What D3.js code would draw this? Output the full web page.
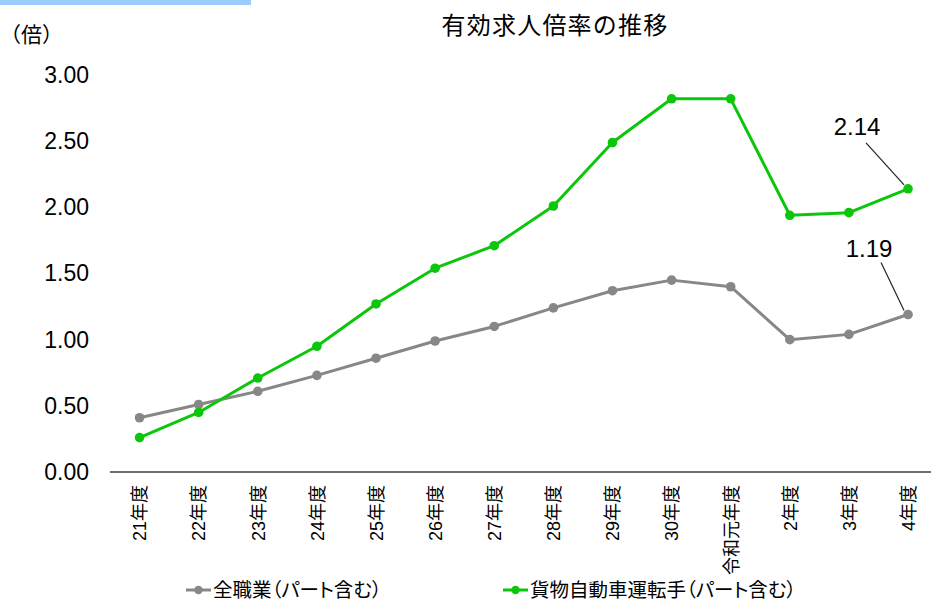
<!DOCTYPE html>
<html lang="ja">
<head>
<meta charset="utf-8">
<script src="https://cdn.jsdelivr.net/npm/d3@7/dist/d3.min.js"></script>
<style>
  html, body { margin: 0; padding: 0; background: #fff; }
  svg { display: block; }
  text { font-family: "Liberation Sans", Arial, "Noto Sans CJK JP", sans-serif; fill: #000; }
  .cjk { font-family: "Liberation Sans", "Noto Sans CJK JP", sans-serif; }
  .prop { font-feature-settings: "palt"; }
</style>
</head>
<body>
<svg id="chart" width="931" height="602"></svg>
<script>
// 年度（平成21年度〜令和4年度）
const years = ["21年度", "22年度", "23年度", "24年度", "25年度", "26年度", "27年度",
               "28年度", "29年度", "30年度", "令和元年度", "2年度", "3年度", "4年度"];
// 全職業（パート含む）
const allJobs = [0.41, 0.51, 0.61, 0.73, 0.86, 0.99, 1.10, 1.24, 1.37, 1.45, 1.40, 1.00, 1.04, 1.19];
// 貨物自動車運転手（パート含む）
const truckDrivers = [0.26, 0.45, 0.71, 0.95, 1.27, 1.54, 1.71, 2.01, 2.49, 2.82, 2.82, 1.94, 1.96, 2.14];
const yTicks = [0, 0.5, 1.0, 1.5, 2.0, 2.5, 3.0];
const seriesNames = ["全職業（パート含む）", "貨物自動車運転手（パート含む）"];

const svg = d3.select("#chart");

const x = d3.scalePoint().domain(years).range([110, 937.6]).padding(0.5);
const y = d3.scaleLinear().domain([0, 3]).range([472, 75]);

// top accent bar
svg.append("rect").attr("x", 0).attr("y", 0).attr("width", 251).attr("height", 5).attr("fill", "#99ccff");

// title
svg.append("text").attr("class", "cjk")
  .attr("x", 555).attr("y", 34).attr("text-anchor", "middle")
  .style("font-size", "24px").style("letter-spacing", "1.2px")
  .text("有効求人倍率の推移");

// unit
svg.append("text").attr("class", "cjk")
  .attr("x", 0).attr("y", 42)
  .style("font-size", "21px")
  .text("（倍）");

// y axis labels only
const yAxis = d3.axisLeft(y).tickValues(yTicks).tickFormat(d3.format(".2f")).tickSize(0).tickPadding(0);
const gy = svg.append("g").attr("transform", "translate(89,0)").call(yAxis);
gy.select(".domain").remove();
gy.selectAll("text").style("font-size", "23px").attr("fill", "#000")
  .style("font-family", "'Liberation Sans', Arial, sans-serif");

// x axis
const xAxis = d3.axisBottom(x).tickSize(0).tickPadding(0);
const gx = svg.append("g").attr("transform", `translate(0,${y(0)})`).call(xAxis);
gx.select(".domain").attr("d", "M110,0H931").attr("stroke", "#404040").attr("stroke-width", 1.5);
gx.selectAll(".tick text")
  .attr("class", "cjk")
  .style("font-size", "18px").attr("fill", "#000")
  .attr("text-anchor", "end")
  .attr("transform", "rotate(-90)")
  .attr("x", -13).attr("y", 0).attr("dy", "0.35em");

// series lines and markers
const series = [
  { name: seriesNames[0], values: allJobs, color: "#878787" },
  { name: seriesNames[1], values: truckDrivers, color: "#0cc60c" }
];
const line = d3.line().x((d, i) => x(years[i])).y(d => y(d));

series.forEach(s => {
  const g = svg.append("g");
  g.append("path").datum(s.values)
    .attr("d", line).attr("fill", "none")
    .attr("stroke", s.color).attr("stroke-width", 3).attr("stroke-linejoin", "round");
  g.selectAll("circle").data(s.values).join("circle")
    .attr("cx", (d, i) => x(years[i])).attr("cy", d => y(d))
    .attr("r", 4.8).attr("fill", s.color);
});

// callouts for the latest year
const last = years.length - 1;
const callouts = [
  { value: truckDrivers[last], dx: -51, dy: -54, lx: -42, ly: -46 },
  { value: allJobs[last], dx: -39, dy: -58, lx: -27, ly: -52 }
];
callouts.forEach(c => {
  const px = x(years[last]), py = y(c.value);
  svg.append("line")
    .attr("x1", px + c.lx).attr("y1", py + c.ly)
    .attr("x2", px - 4).attr("y2", py - 4)
    .attr("stroke", "#222").attr("stroke-width", 1.2);
  svg.append("text")
    .attr("x", px + c.dx).attr("y", py + c.dy)
    .attr("text-anchor", "middle")
    .style("font-size", "24px")
    .text(d3.format(".2f")(c.value));
});

// legend
const legendItems = [
  { name: seriesNames[0], color: "#878787", x: 186 },
  { name: seriesNames[1], color: "#0cc60c", x: 503 }
];
const lg = svg.append("g").attr("transform", "translate(0,590)");
legendItems.forEach(it => {
  lg.append("line").attr("x1", it.x).attr("x2", it.x + 25).attr("y1", 0).attr("y2", 0)
    .attr("stroke", it.color).attr("stroke-width", 3);
  lg.append("circle").attr("cx", it.x + 12.5).attr("cy", 0).attr("r", 4.2).attr("fill", it.color);
  lg.append("text").attr("class", "cjk prop")
    .attr("x", it.x + 27).attr("y", 0).attr("dy", "0.34em")
    .style("font-size", "19.5px")
    .text(it.name);
});
</script>
</body>
</html>
